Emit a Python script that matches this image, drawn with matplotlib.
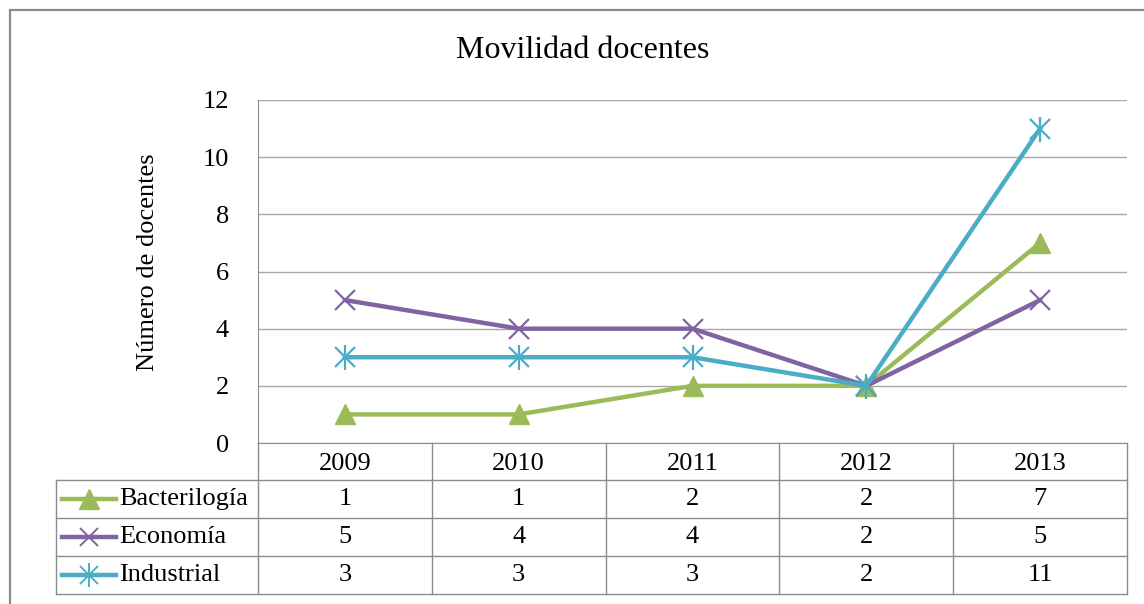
import matplotlib.pyplot as plt
from matplotlib.lines import Line2D
from matplotlib.patches import Rectangle
import matplotlib.transforms as mtransforms

years = ['2009', '2010', '2011', '2012', '2013']
bacteriologia = [1, 1, 2, 2, 7]
economia = [5, 4, 4, 2, 5]
industrial = [3, 3, 3, 2, 11]
series_names = ['Bacterilogía', 'Economía', 'Industrial']

green = '#9BBB59'
purple = '#8064A2'
cyan = '#4BACC6'
grid_col = '#A6A6A6'
edge_col = '#8C8C8C'

plt.rcParams['font.family'] = ['Liberation Serif', 'DejaVu Serif']
fs = 19

W, H = 1144, 604
fig = plt.figure(figsize=(W / 100, H / 100), dpi=100)

# outer chart border (clipped at right/bottom like the original)
fig.patches.append(Rectangle((10 / W, -0.1), 1.2, (H - 10) / H + 0.1,
                             transform=fig.transFigure, fill=False,
                             edgecolor=edge_col, lw=1.6))

ax = fig.add_axes([258 / W, (H - 443) / H, (1127 - 258) / W, (443 - 100) / H])
x = list(range(len(years)))

lw = 3.2
ax.plot(x, bacteriologia, color=green, lw=lw, marker='^', ms=15, zorder=3)
ax.plot(x, economia, color=purple, lw=lw, marker='x', ms=14, mew=1.6, zorder=3)
ax.plot(x, industrial, color=cyan, lw=lw, marker='x', ms=14, mew=1.6, zorder=4)
ax.plot(x, industrial, color=cyan, lw=0, marker='|', ms=18, mew=1.6, zorder=4)

ax.set_xlim(-0.5, 4.5)
ax.set_ylim(0, 12)
ax.set_yticks(range(0, 13, 2))
ax.set_xticks([])
ax.grid(axis='y', color=grid_col, lw=1)
ax.set_axisbelow(True)
for s in ['top', 'right']:
    ax.spines[s].set_visible(False)
for s in ['left', 'bottom']:
    ax.spines[s].set_color(edge_col)
ax.tick_params(axis='y', length=0, pad=21, labelsize=fs)
ax.set_ylabel('Número de docentes', fontsize=fs)
ax.yaxis.set_label_coords(-0.114, 0.527)

fig.text(583 / W, (H - 51) / H, 'Movilidad docentes', ha='center', va='center', fontsize=23)

# data table below the axis
tr = mtransforms.blended_transform_factory(ax.transData, ax.transAxes)
ph = 343.0
row_y = [0, -37 / ph, -75 / ph, -113 / ph, -151 / ph]
unit = 869 / 5
left = -0.5 - (258 - 56) / unit
lkw = dict(transform=tr, color=edge_col, lw=1, clip_on=False)

for i in range(len(years) + 1):
    xe = i - 0.5
    ax.add_line(Line2D([xe, xe], [row_y[0], row_y[-1]], **lkw))
for yy in row_y[1:]:
    ax.add_line(Line2D([left, 4.5], [yy, yy], **lkw))
ax.add_line(Line2D([left, left], [row_y[1], row_y[-1]], **lkw))

for i, yr in enumerate(years):
    ax.text(i, (row_y[0] + row_y[1]) / 2 - 2 / ph, yr, transform=tr, ha='center', va='center', fontsize=fs)

table_data = [bacteriologia, economia, industrial]
colors = [green, purple, cyan]
leg_x0 = left + (62 - 56) / unit
leg_x1 = left + (116 - 56) / unit
leg_xm = (leg_x0 + leg_x1) / 2
txt_x = left + (119 - 56) / unit
for r, (name, vals, c) in enumerate(zip(series_names, table_data, colors)):
    yc = (row_y[r + 1] + row_y[r + 2]) / 2
    ax.add_line(Line2D([leg_x0, leg_x1], [yc, yc], transform=tr, color=c, lw=lw, clip_on=False))
    if r == 0:
        ax.add_line(Line2D([leg_xm], [yc], transform=tr, color=c, marker='^', ms=14, clip_on=False))
    else:
        ax.add_line(Line2D([leg_xm], [yc], transform=tr, color=c, marker='x', ms=13, mew=1.4, clip_on=False))
        if r == 2:
            ax.add_line(Line2D([leg_xm], [yc], transform=tr, color=c, marker='|', ms=17, mew=1.4, clip_on=False))
    ax.text(txt_x, yc, name, transform=tr, ha='left', va='center', fontsize=fs)
    for i, v in enumerate(vals):
        ax.text(i, yc, str(v), transform=tr, ha='center', va='center', fontsize=fs)

fig.savefig('out.png', dpi=100)
